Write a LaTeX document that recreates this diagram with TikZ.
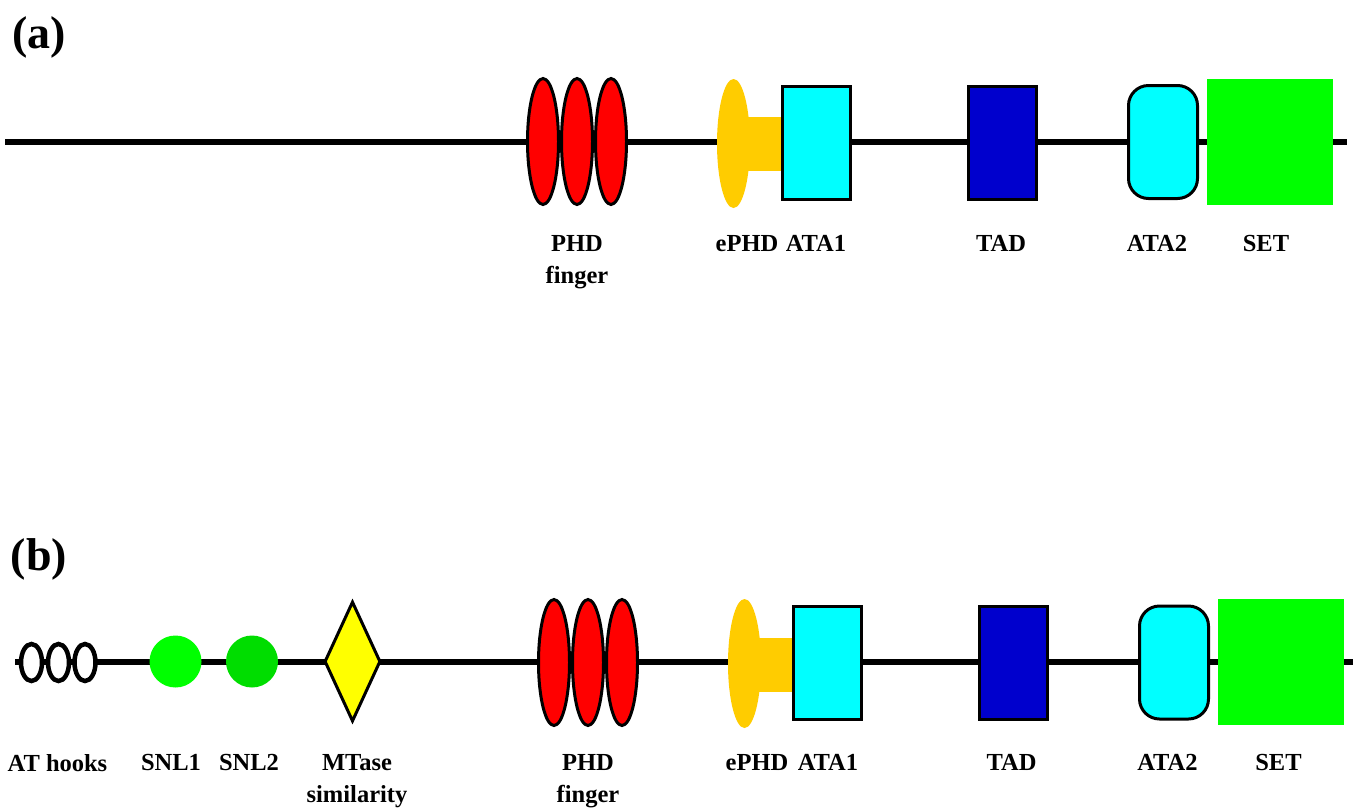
\documentclass[tikz,border=0pt]{standalone}
\usepackage{fontspec}
\setmainfont{Liberation Serif}
\usetikzlibrary{shapes.geometric}

\definecolor{phdred}{RGB}{255,0,0}
\definecolor{ephdgold}{RGB}{255,204,0}
\definecolor{atacyan}{RGB}{0,255,255}
\definecolor{tadblue}{RGB}{0,0,205}
\definecolor{setgreen}{RGB}{0,255,0}
\definecolor{snlgreen}{RGB}{0,255,0}
\definecolor{snldark}{RGB}{0,221,0}
\definecolor{mtyellow}{RGB}{255,255,0}

\tikzset{
  backbone/.style={line width=5.5pt, black},
  phd/.style={ellipse, draw=black, line width=3pt, fill=phdred,
    minimum width=31, minimum height=126, inner sep=0pt},
  ephdhead/.style={ellipse, fill=ephdgold, minimum width=33,
    minimum height=129, inner sep=0pt},
  ephdstem/.style={rectangle, fill=ephdgold, minimum width=48,
    minimum height=54, inner sep=0pt},
  atabox/.style={rectangle, draw=black, line width=3pt, fill=atacyan,
    minimum width=68, minimum height=113, inner sep=0pt},
  tadbox/.style={atabox, fill=tadblue},
  ata2box/.style={rectangle, rounded corners=20pt,
    draw=black, line width=3pt, fill=atacyan,
    minimum width=69, minimum height=113, inner sep=0pt},
  setbox/.style={rectangle, fill=setgreen, minimum width=126,
    minimum height=126, inner sep=0pt},
  hook/.style={ellipse, draw=black, line width=4.5pt, fill=white,
    minimum width=21, minimum height=37, inner sep=0pt},
  snl/.style={circle, minimum size=52, inner sep=0pt},
  mtase/.style={diamond, draw=black, line width=3pt, fill=mtyellow,
    minimum width=56, minimum height=120, inner sep=0pt},
  lbl/.style={anchor=north, inner sep=0pt, align=center,
    font=\fontsize{24.5}{32}\selectfont\bfseries},
  panel/.style={anchor=base, inner sep=0pt,
    font=\fontsize{46}{52}\selectfont\bfseries},
}

\begin{document}
\begin{tikzpicture}[x=1pt, y=-1pt]
\useasboundingbox[fill=white] (0,0) rectangle (1353,807);

% ---------------- panel (a) ----------------
\node[panel] (pa) at (39,48) {(a)};
\coordinate (a0) at (5,142);
\coordinate (a1) at (1347,142);
\draw[backbone] (a0) -- (a1);

\node[phd] (aphd1) at (543,141.5) {};
\node[phd] (aphd2) at (577,141.5) {};
\node[phd] (aphd3) at (611,141.5) {};

\node[ephdhead] (aephd) at (733.5,143.5) {};
\node[ephdstem] (aestem) at (757,144) {};
\node[atabox] (aata1) at (816.5,142.5) {};
\node[tadbox] (atad) at (1002.5,142.5) {};
\node[ata2box] (aata2) at (1163,142) {};
\node[setbox] (aset) at (1270,142) {};

\node[lbl] (laphd) at (577,235) {PHD\\finger};
\node[lbl] (laephd) at (747,235) {ePHD};
\node[lbl] (laata1) at (816,235) {ATA1};
\node[lbl] (latad) at (1001,235) {TAD};
\node[lbl] (laata2) at (1157,235) {ATA2};
\node[lbl] (laset) at (1266,235) {SET};

% ---------------- panel (b) ----------------
\node[panel] (pb) at (39,570) {(b)};
\coordinate (b0) at (15,662);
\coordinate (b1) at (1353,662);
\draw[backbone] (b0) -- (b1);

\node[hook] (bhk1) at (31.5,662.5) {};
\node[hook] (bhk2) at (58.5,662.5) {};
\node[hook] (bhk3) at (85,662.5) {};

\node[snl, fill=snlgreen] (bsnl1) at (175.5,661.5) {};
\node[snl, fill=snldark] (bsnl2) at (252,661.5) {};
\node[mtase] (bmt) at (352.5,661.5) {};

\node[phd] (bphd1) at (554,662.5) {};
\node[phd] (bphd2) at (588,662.5) {};
\node[phd] (bphd3) at (622,662.5) {};

\node[ephdhead] (bephd) at (744.5,663.5) {};
\node[ephdstem] (bestem) at (768,664.5) {};
\node[atabox] (bata1) at (827.5,662.5) {};
\node[tadbox] (btad) at (1013.5,663) {};
\node[ata2box] (bata2) at (1174,662.5) {};
\node[setbox] (bset) at (1280.5,662) {};

\node[lbl] (lbhk) at (57.5,754) {AT hooks};
\node[lbl] (lbsnl1) at (171,754) {SNL1};
\node[lbl] (lbsnl2) at (249,754) {SNL2};
\node[lbl] (lbmt) at (357,754) {MTase\\similarity};
\node[lbl] (lbphd) at (588,754) {PHD\\finger};
\node[lbl] (lbephd) at (757,754) {ePHD};
\node[lbl] (lbata1) at (828,754) {ATA1};
\node[lbl] (lbtad) at (1011.5,754) {TAD};
\node[lbl] (lbata2) at (1167.5,754) {ATA2};
\node[lbl] (lbset) at (1278.5,754) {SET};
\end{tikzpicture}
\end{document}
